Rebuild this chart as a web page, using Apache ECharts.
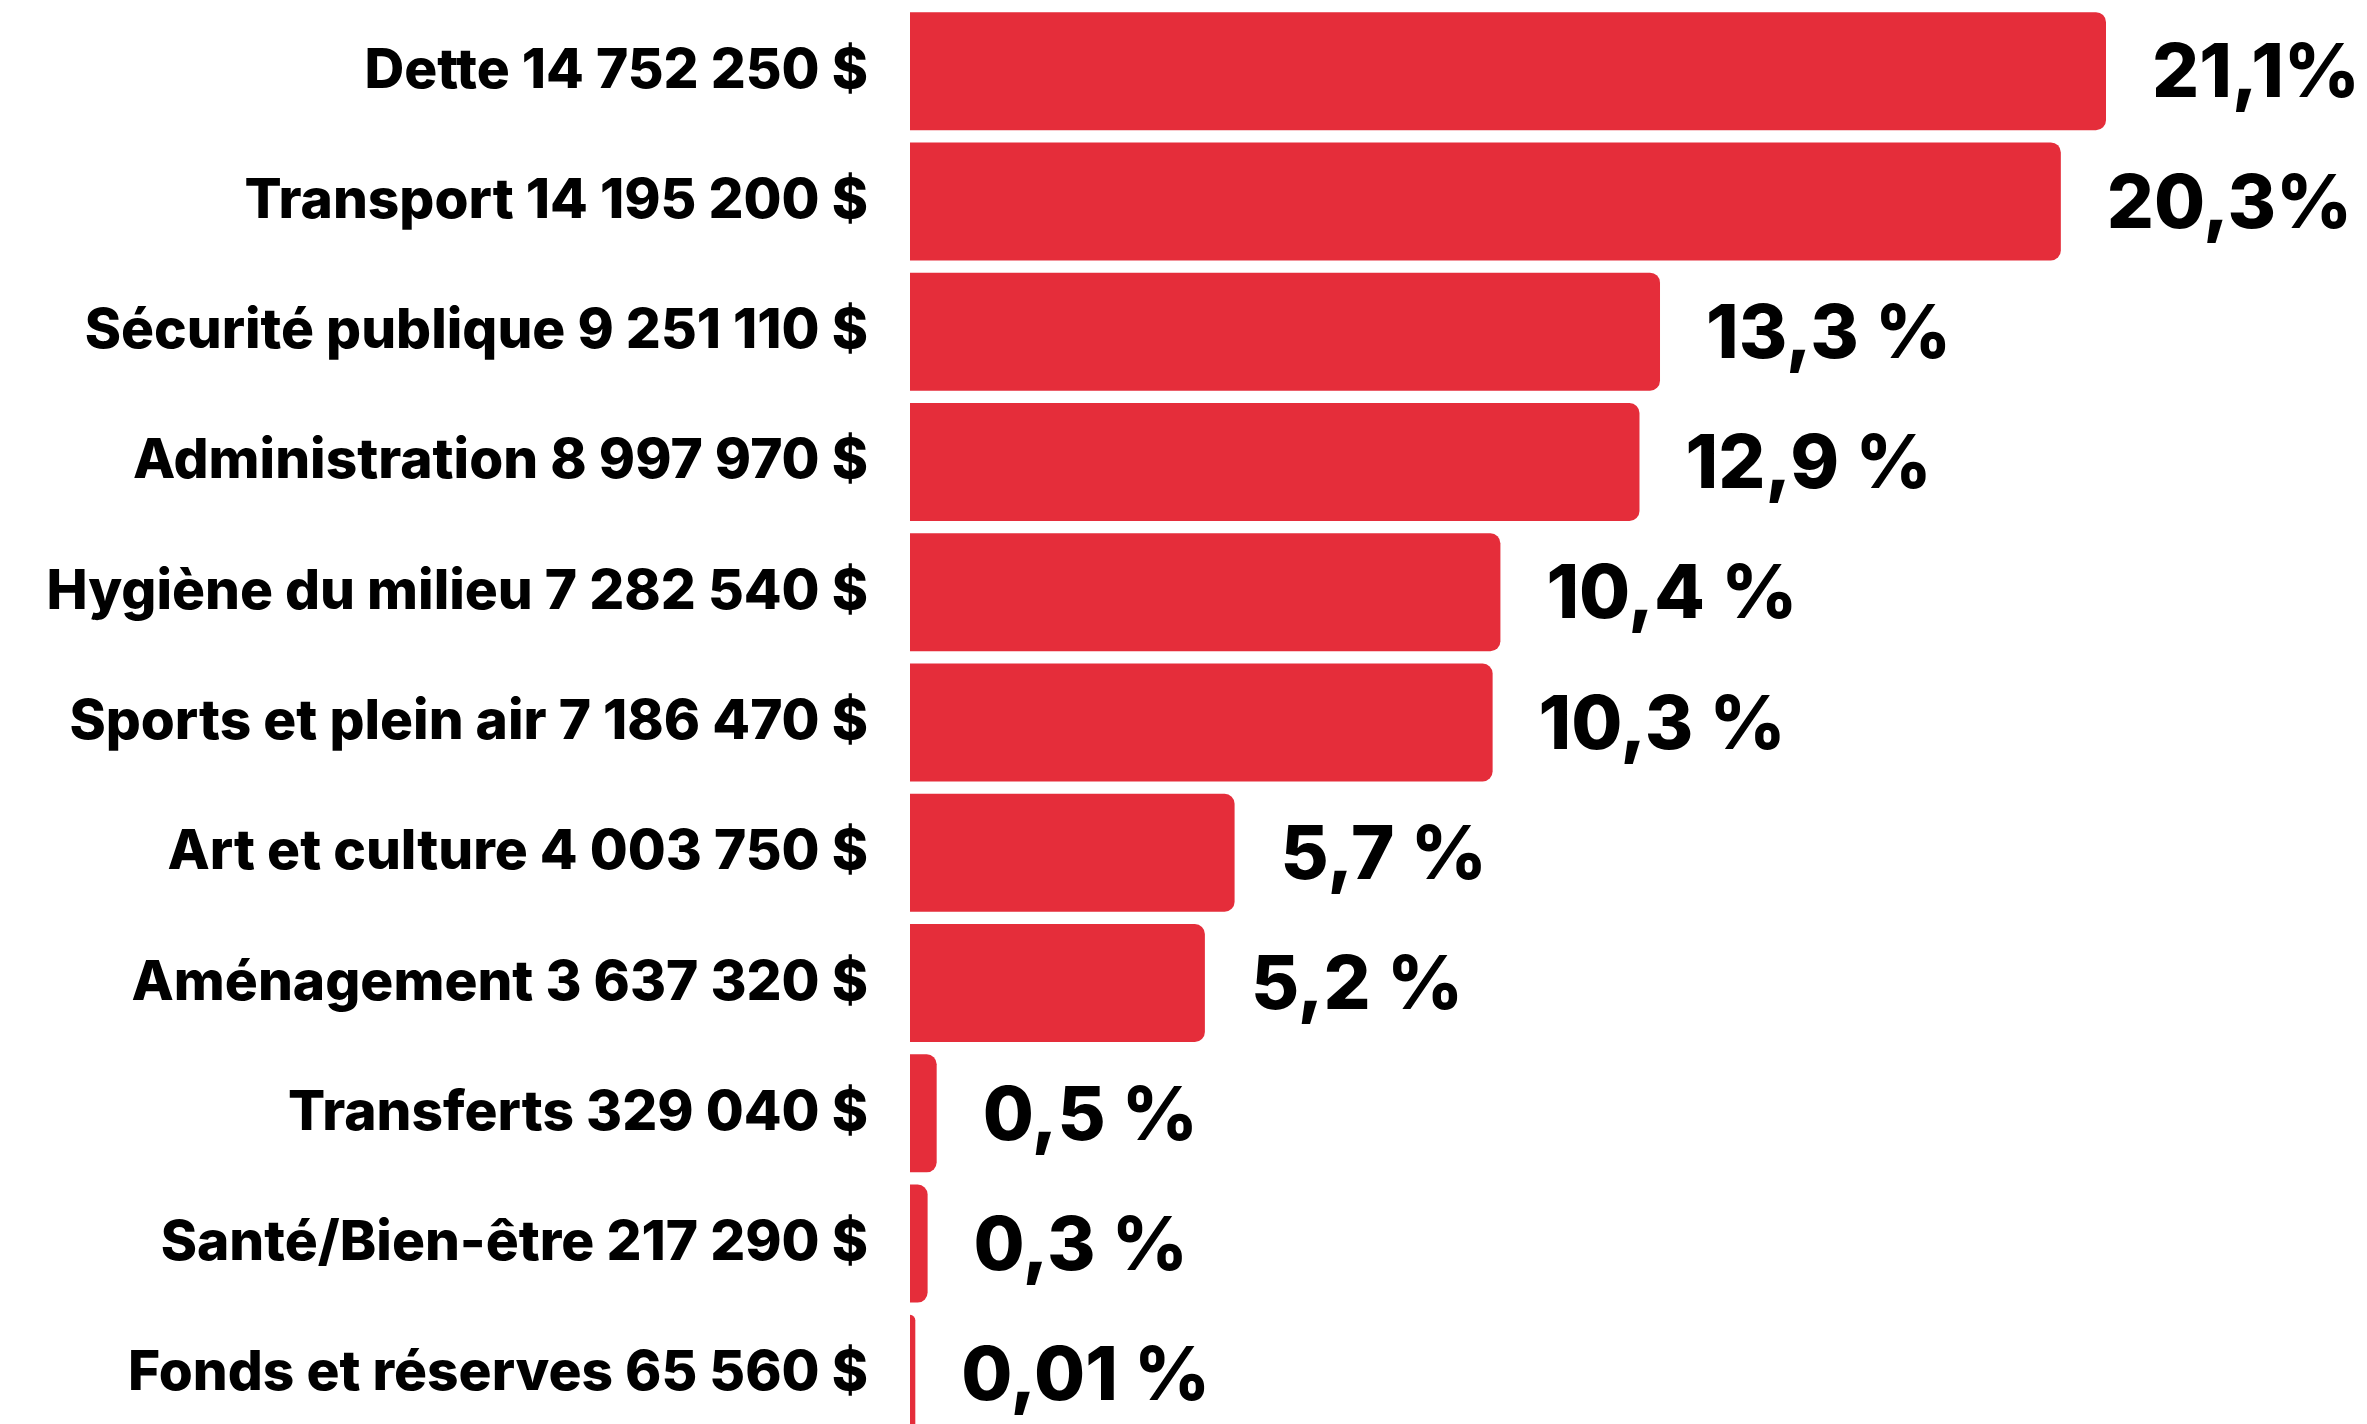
<!DOCTYPE html>
<html>
<head>
<meta charset="utf-8">
<script src="https://cdn.jsdelivr.net/npm/echarts@6/dist/echarts.min.js"></script>
<style>
  html, body { margin: 0; padding: 0; background: #fff; }
  #chart { width: 2367px; height: 1424px; }
</style>
</head>
<body>
<div id="chart"></div>
<script>
// postes budgétaires, du plus gros au plus petit
const categories = [
  'Dette 14 752 250 $',
  'Transport 14 195 200 $',
  'Sécurité publique 9 251 110 $',
  'Administration 8 997 970 $',
  'Hygiène du milieu 7 282 540 $',
  'Sports et plein air 7 186 470 $',
  'Art et culture 4 003 750 $',
  'Aménagement 3 637 320 $',
  'Transferts 329 040 $',
  'Santé/Bien-être 217 290 $',
  'Fonds et réserves 65 560 $'
]
const amounts = [14752250, 14195200, 9251110, 8997970, 7282540, 7186470, 4003750, 3637320, 329040, 217290, 65560]
const percents = ['21,1%', '20,3%', '13,3 %', '12,9 %', '10,4 %', '10,3 %', '5,7 %', '5,2 %', '0,5 %', '0,3 %', '0,01 %']

const FONT = 'Inter'
const chart = echarts.init(document.getElementById('chart'))

chart.setOption({
  backgroundColor: '#fff',
  animation: false,
  grid: {
    left: 910,
    width: 1196,
    top: 6,
    height: 1433,
    outerBoundsMode: 'none',
    containLabel: false
  },
  xAxis: {
    type: 'value',
    min: 0,
    max: 'dataMax',
    show: false
  },
  yAxis: {
    type: 'category',
    inverse: true,
    data: categories,
    axisLine: { show: false },
    axisTick: { show: false },
    axisLabel: {
      margin: 42,
      color: '#000',
      fontFamily: FONT,
      fontWeight: 800,
      fontSize: 55
    }
  },
  series: [
    {
      type: 'bar',
      data: amounts,
      barWidth: 118,
      itemStyle: {
        color: '#e52d3a',
        borderRadius: [0, 10, 10, 0]
      },
      label: {
        show: true,
        position: 'right',
        distance: 46,
        offset: [0, 4],
        color: '#000',
        fontFamily: FONT,
        fontWeight: 800,
        fontSize: 74,
        formatter: (p) => percents[p.dataIndex]
      }
    }
  ]
})
</script>
</body>
</html>
